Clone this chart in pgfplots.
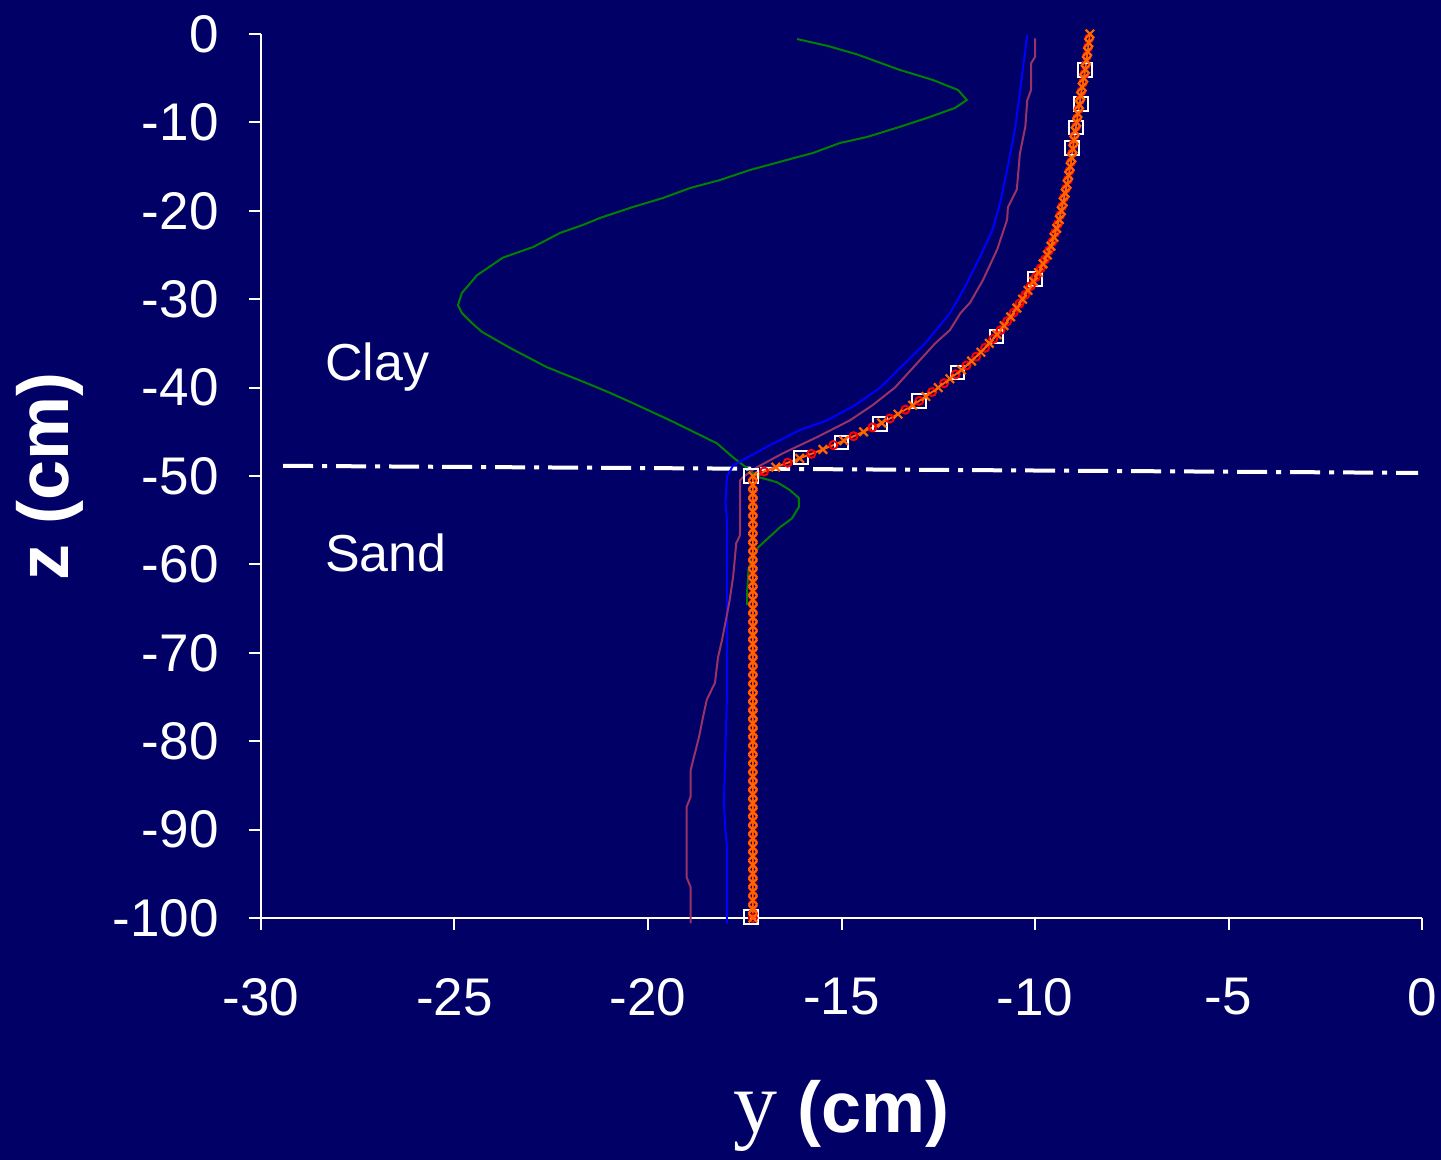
\documentclass[border=0pt]{standalone}
\usepackage{fontspec}
\setmainfont{Liberation Sans}
\newfontfamily\seriffont{Liberation Serif}
\usepackage{pgfplots}
\pgfplotsset{compat=1.18}
\usepackage{pgfplotstable}
\usetikzlibrary{backgrounds}

\definecolor{bg}{RGB}{0,0,102}
\definecolor{xlgreen}{RGB}{0,128,0}
\definecolor{xlblue}{RGB}{0,0,255}
\definecolor{xlmauve}{RGB}{153,51,102}
\definecolor{xlred}{RGB}{255,0,0}
\definecolor{xlorange}{RGB}{255,102,0}

% analytic solution: orange x at whole cm, red o at half cm
\pgfplotstableread{
zo   yo      zr     yr
0    -8.58   -0.5   -8.60
-1   -8.61   -1.5   -8.63
-2   -8.64   -2.5   -8.66
-3   -8.67   -3.5   -8.69
-4   -8.70   -4.5   -8.72
-5   -8.74   -5.5   -8.76
-6   -8.78   -6.5   -8.80
-7   -8.82   -7.5   -8.84
-8   -8.85   -8.5   -8.87
-9   -8.89   -9.5   -8.91
-10  -8.92   -10.5  -8.94
-11  -8.96   -11.5  -8.98
-12  -8.99   -12.5  -9.01
-13  -9.02   -13.5  -9.04
-14  -9.05   -14.5  -9.07
-15  -9.09   -15.5  -9.11
-16  -9.13   -16.5  -9.15
-17  -9.17   -17.5  -9.20
-18  -9.22   -18.5  -9.25
-19  -9.27   -19.5  -9.30
-20  -9.32   -20.5  -9.35
-21  -9.37   -21.5  -9.41
-22  -9.44   -22.5  -9.48
-23  -9.51   -23.5  -9.55
-24  -9.59   -24.5  -9.64
-25  -9.68   -25.5  -9.74
-26  -9.79   -26.5  -9.85
-27  -9.91   -27.5  -9.98
-28  -10.04  -28.5  -10.11
-29  -10.18  -29.5  -10.25
-30  -10.32  -30.5  -10.40
-31  -10.47  -31.5  -10.55
-32  -10.63  -32.5  -10.72
-33  -10.80  -33.5  -10.89
-34  -10.98  -34.5  -11.08
-35  -11.18  -35.5  -11.29
-36  -11.40  -36.5  -11.52
-37  -11.64  -37.5  -11.77
-38  -11.90  -38.5  -12.05
-39  -12.20  -39.5  -12.35
-40  -12.50  -40.5  -12.66
-41  -12.82  -41.5  -12.99
-42  -13.16  -42.5  -13.35
-43  -13.54  -43.5  -13.75
-44  -13.96  -44.5  -14.20
-45  -14.43  -45.5  -14.69
-46  -14.94  -46.5  -15.21
-47  -15.48  -47.5  -15.78
-48  -16.08  -48.5  -16.39
-49  -16.70  -49.5  -17.00
-50  -17.29  -50.5  -17.29
-51  -17.29  -51.5  -17.29
-52  -17.29  -52.5  -17.29
-53  -17.29  -53.5  -17.29
-54  -17.29  -54.5  -17.29
-55  -17.29  -55.5  -17.29
-56  -17.29  -56.5  -17.29
-57  -17.29  -57.5  -17.29
-58  -17.29  -58.5  -17.29
-59  -17.29  -59.5  -17.29
-60  -17.29  -60.5  -17.29
-61  -17.29  -61.5  -17.29
-62  -17.29  -62.5  -17.29
-63  -17.29  -63.5  -17.29
-64  -17.29  -64.5  -17.29
-65  -17.29  -65.5  -17.29
-66  -17.29  -66.5  -17.29
-67  -17.29  -67.5  -17.29
-68  -17.29  -68.5  -17.29
-69  -17.29  -69.5  -17.29
-70  -17.29  -70.5  -17.29
-71  -17.29  -71.5  -17.29
-72  -17.29  -72.5  -17.29
-73  -17.29  -73.5  -17.29
-74  -17.29  -74.5  -17.29
-75  -17.29  -75.5  -17.29
-76  -17.29  -76.5  -17.29
-77  -17.29  -77.5  -17.29
-78  -17.29  -78.5  -17.29
-79  -17.29  -79.5  -17.29
-80  -17.29  -80.5  -17.29
-81  -17.29  -81.5  -17.29
-82  -17.29  -82.5  -17.29
-83  -17.29  -83.5  -17.29
-84  -17.29  -84.5  -17.29
-85  -17.29  -85.5  -17.29
-86  -17.29  -86.5  -17.29
-87  -17.29  -87.5  -17.29
-88  -17.29  -88.5  -17.29
-89  -17.29  -89.5  -17.29
-90  -17.29  -90.5  -17.29
-91  -17.29  -91.5  -17.29
-92  -17.29  -92.5  -17.29
-93  -17.29  -93.5  -17.29
-94  -17.29  -94.5  -17.29
-95  -17.29  -95.5  -17.29
-96  -17.29  -96.5  -17.29
-97  -17.29  -97.5  -17.29
-98  -17.29  -98.5  -17.29
-99  -17.29  -99.5  -17.29
-100 -17.29  -100   -17.29
}\analytic

\begin{document}
\begin{tikzpicture}
\begin{axis}[
    name=ax,
    width=580.5pt, height=442pt, scale only axis,
    xmin=-30, xmax=0, ymin=-100, ymax=0,
    clip=false,
    axis lines*=left,
    axis line style={white, line width=1pt},
    xtick={-30,-25,...,0}, ytick={-100,-90,...,0},
    tick align=outside, major tick length=6pt,
    tick style={white, line width=1pt},
    /pgf/number format/assume math mode=true,
    every tick label/.append style={text=white, inner sep=0pt,
        font=\fontsize{26.5}{30}\selectfont},
    xticklabel style={anchor=north, yshift=-24pt},
    yticklabel style={anchor=east, xshift=-15pt},
    xlabel={{\seriffont\fontsize{44}{48}\selectfont y} {\bfseries(cm)}},
    xlabel style={text=white, font=\fontsize{36}{40}\selectfont, anchor=center,
        at={(axis description cs:0.5,0)}, yshift=-99pt},
    ylabel={\bfseries z (cm)},
    ylabel style={text=white, font=\fontsize{36}{40}\selectfont, anchor=center,
        at={(axis description cs:-0.1817,0.5)}},
]
% layer interface
\addplot[white, line width=2pt,
    dash pattern=on 15pt off 4.5pt on 2.5pt off 4.5pt] coordinates {
(-29.43,-48.85) (-0.1,-49.65)
};
% green
\addplot[xlgreen, line width=1pt, no markers] coordinates {
(-16.15,-0.57) (-15.35,-1.36) (-14.6,-2.3) (-13.49,-4.07) (-12.64,-5.2)
(-11.99,-6.33) (-11.76,-7.47) (-12.07,-8.37) (-12.79,-9.5) (-13.49,-10.5)
(-14.34,-11.65) (-15.04,-12.33) (-15.74,-13.46) (-16.41,-14.25) (-17.36,-15.38)
(-18.14,-16.52) (-18.91,-17.42) (-19.61,-18.55) (-20.39,-19.57) (-21.24,-20.81)
(-21.68,-21.6) (-22.27,-22.5) (-22.97,-24.1) (-23.75,-25.3) (-24.42,-27.3)
(-24.81,-29.3) (-24.91,-30.66) (-24.81,-31.56) (-24.55,-32.7) (-24.29,-33.7)
(-23.57,-35.5) (-22.61,-37.7) (-21.58,-39.5) (-20.98,-40.6) (-20.47,-41.6)
(-19.43,-43.7) (-18.22,-46.3) (-17.8,-47.9) (-17.44,-49.1) (-17.16,-50.1)
(-16.67,-50.7) (-16.33,-51.6) (-16.1,-52.5) (-16.1,-53.5) (-16.28,-54.8)
(-16.59,-55.8) (-17.16,-58.1) (-17.4,-60.4) (-17.44,-63.2) (-17.44,-64.6)
};
% blue
\addplot[xlblue, line width=1pt, no markers] coordinates {
(-10.2,-0.1) (-10.34,-4.9) (-10.52,-10.9) (-10.75,-16) (-10.9,-19.1)
(-11.1,-22.2) (-11.42,-25.2) (-11.76,-28.2) (-12.0,-30.1) (-12.2,-31.6)
(-12.84,-35) (-14.0,-40) (-14.65,-42) (-15.37,-43.7) (-16.07,-44.8)
(-16.93,-46.7) (-17.8,-48.8) (-17.96,-50.1) (-18.0,-53.1) (-17.96,-55)
(-17.96,-65) (-17.96,-75) (-18.04,-87) (-18.0,-90) (-17.96,-92) (-17.96,-100.6)
};
% mauve
\addplot[xlmauve, line width=1pt, no markers] coordinates {
(-10.0,-0.5) (-10.0,-2.6) (-10.1,-3.3) (-10.1,-6.3) (-10.2,-7.5)
(-10.25,-10.5) (-10.39,-13.5) (-10.47,-17.6) (-10.7,-19.6) (-10.72,-21)
(-10.98,-24.4) (-11.34,-27.8) (-11.68,-30.4) (-11.93,-31.6) (-12.2,-33.5)
(-12.58,-35) (-13.62,-40) (-14.2,-42) (-14.78,-43.7) (-15.63,-45.6)
(-16.5,-47.4) (-17.18,-49) (-17.54,-50.1) (-17.62,-50.5) (-17.62,-56.7)
(-17.72,-57.6) (-17.8,-61.4) (-17.9,-64.3) (-18.0,-66.6) (-18.09,-68.6)
(-18.19,-70.5) (-18.27,-73.4) (-18.48,-75.3) (-18.58,-77.3) (-18.68,-79.5)
(-18.79,-81.4) (-18.9,-83.3) (-18.9,-86.3) (-19.0,-87.4) (-19.0,-95.4)
(-18.9,-96.5) (-18.9,-100.6)
};
% measured (white squares)
\addplot[only marks, mark=square, mark size=3.4pt,
    mark options={white, line width=1pt}] coordinates {
(-8.71,-4.1) (-8.81,-7.9) (-8.94,-10.6) (-9.04,-12.9) (-10.0,-27.7)
(-11.0,-34.2) (-12.0,-38.3) (-13.0,-41.5) (-14.0,-44.1) (-15.0,-46.2)
(-16.05,-47.9) (-17.34,-50.0) (-17.34,-99.9)
};
% red circles
\addplot[xlred, line width=1pt, mark=o, mark size=2pt,
    mark options={line width=1pt}] table[x=yr, y=zr] {\analytic};
% orange crosses
\addplot[xlorange, line width=0.8pt, mark=x, mark size=3pt,
    mark options={line width=1.1pt}] table[x=yo, y=zo] {\analytic};
\node[text=white, anchor=west, inner sep=0pt,
    font=\fontsize{26}{30}\selectfont] at (axis cs:-28.35,-37.7) {Clay};
\node[text=white, anchor=west, inner sep=0pt,
    font=\fontsize{26}{30}\selectfont] at (axis cs:-28.35,-58.7) {Sand};
\end{axis}
\begin{scope}[on background layer]
\fill[bg] ([xshift=-130.5pt,yshift=-121pt]ax.south west)
    rectangle ([xshift=9.5pt,yshift=17pt]ax.north east);
\end{scope}
\end{tikzpicture}
\end{document}
